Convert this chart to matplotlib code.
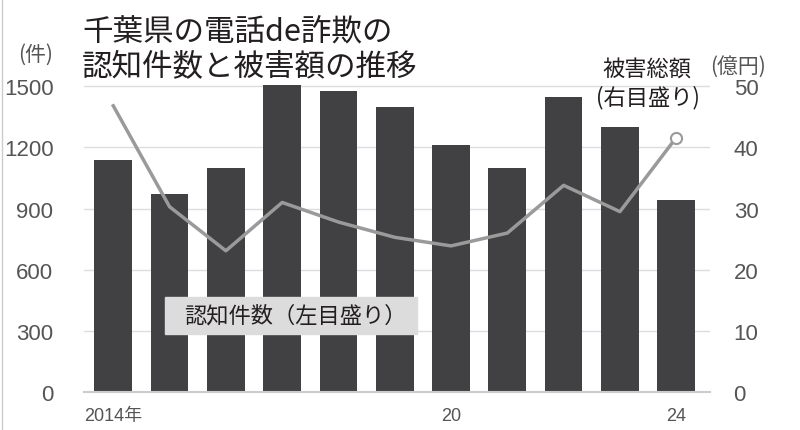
import matplotlib.pyplot as plt
from matplotlib.patches import Rectangle
from matplotlib.lines import Line2D

years = ['2014年', '', '', '', '', '', '20', '', '', '', '24']
cases = [1140, 970, 1100, 1505, 1475, 1400, 1210, 1100, 1445, 1300, 940]
damage = [46.8, 30.3, 23.1, 31.0, 27.8, 25.3, 23.9, 26.0, 33.8, 29.5, 41.6]
left_ticks = [0, 300, 600, 900, 1200, 1500]
right_ticks = [0, 10, 20, 30, 40, 50]

jp = ['Noto Sans CJK JP', 'DejaVu Sans']
num = ['Liberation Sans', 'Noto Sans CJK JP', 'DejaVu Sans']
plt.rcParams['font.family'] = jp

fig = plt.figure(figsize=(8, 4.31), dpi=100)
ax = fig.add_axes([0.105, 0.088, 0.7825, 0.7285])
x = list(range(len(cases)))

ax.bar(x, cases, width=0.67, color='#414042', zorder=2)
ax.set_ylim(0, 1540)
ax.set_xlim(-0.52, 10.6)
ax.set_yticks(left_ticks)
ax.set_xticks(x, years)
ax.yaxis.grid(True, color='#dddddd', lw=1)
ax.set_axisbelow(True)
for s in ['top', 'left', 'right']:
    ax.spines[s].set_visible(False)
ax.spines['bottom'].set_color('#cccccc')
ax.spines['bottom'].set_linewidth(1.5)
ax.tick_params(axis='y', length=0, pad=22, labelsize=16, labelcolor='#555555')
ax.tick_params(axis='x', length=0, pad=11, labelsize=13, labelcolor='#555555')
for lab in ax.get_yticklabels() + ax.get_xticklabels():
    lab.set_family(num)

ax2 = ax.twinx()
ax2.plot(x, damage, color='#9a9a9a', lw=2.5, zorder=3)
ax2.plot(x[-1], damage[-1], 'o', mfc='white', mec='#9a9a9a', ms=8, mew=1.5, zorder=4)
ax2.set_ylim(0, 1540 / 30)
ax2.set_yticks(right_ticks)
for s in ax2.spines.values():
    s.set_visible(False)
ax2.tick_params(axis='y', length=0, pad=17, labelsize=16, labelcolor='#555555')
for lab in ax2.get_yticklabels():
    lab.set_family(num)

# title
fig.text(82 / 800, 1 - 32 / 431, '千葉県の電話de詐欺の', fontsize=22,
         color='#231f20', va='center', ha='left')
fig.text(82 / 800, 1 - 68 / 431, '認知件数と被害額の推移', fontsize=22,
         color='#231f20', va='center', ha='left')

# units
fig.text(36 / 800, 1 - 55 / 431, '(件)', fontsize=15, color='#555555',
         ha='center', va='center')
fig.text(738 / 800, 1 - 67 / 431, '(億円)', fontsize=15, color='#555555',
         ha='center', va='center')

# series labels
fig.text(647 / 800, 1 - 70 / 431, '被害総額', fontsize=16, color='#231f20',
         ha='center', va='center')
fig.text(648 / 800, 1 - 98 / 431, '(右目盛り)', fontsize=16, color='#231f20',
         ha='center', va='center')

fig.patches.append(Rectangle((165 / 800, 1 - 335 / 431), 252 / 800, 37 / 431,
                             transform=fig.transFigure, color='#dcdcdc', zorder=3))
fig.text(295 / 800, 1 - 316 / 431, '認知件数（左目盛り）', fontsize=16,
         color='#231f20', ha='center', va='center', zorder=4)

fig.lines.append(Line2D([0.003, 0.003], [0, 1], transform=fig.transFigure,
                        color='#cccccc', lw=1))

fig.savefig('out.png', dpi=100)
